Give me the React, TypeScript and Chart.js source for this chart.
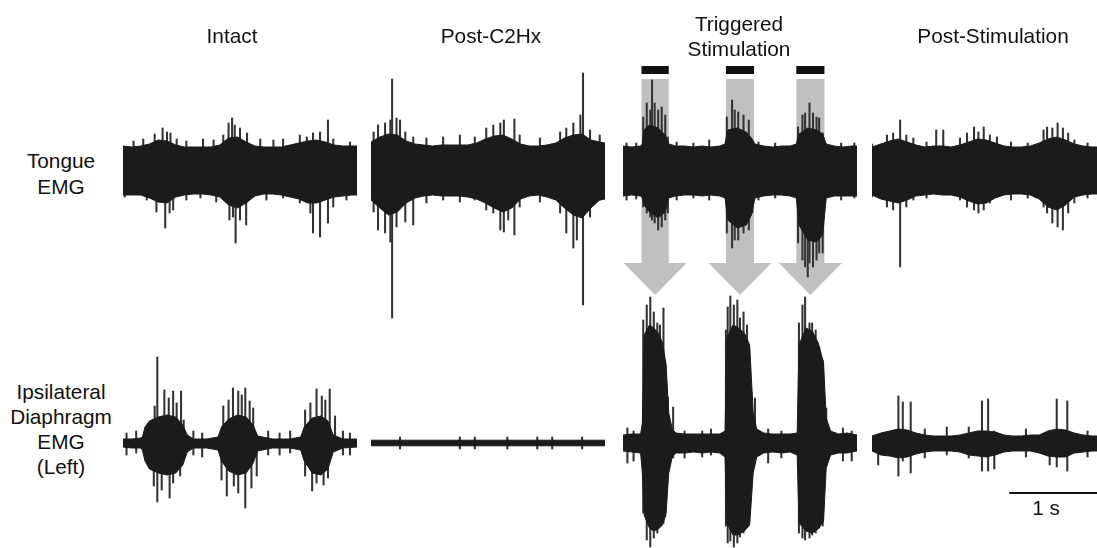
import React, { useEffect, useRef } from "react";
import { Chart, registerables } from "chart.js";

Chart.register(...registerables);

// ---------- DATA ----------
// Envelope samples (dense core of the trace): [time (s), upper amplitude, lower amplitude]  (a.u.)
// Spikes (individual excursions): [time (s), top, bottom]
type Env = [number, number, number][];
type Spk = [number, number, number][];

const PANEL_TITLES = ["Intact", "Post-C2Hx", "Triggered\nStimulation", "Post-Stimulation"];
const ROW_LABELS = ["Tongue\nEMG", "Ipsilateral\nDiaphragm\nEMG\n(Left)"];
const TRACE_DURATION = 2.66; // s
const SCALE_BAR_LABEL = "1 s";
const SCALE_BAR = [1.56, 2.56]; // s
const STIM_ON = [0.21, 1.17, 1.97]; // s
const STIM_OFF = [0.52, 1.49, 2.29]; // s

const TONGUE_INTACT: Env = [
  [0, 24, 25], [0.1, 23, 25], [0.2, 24, 25], [0.3, 26, 28], [0.4, 30, 32], [0.5, 29, 33], [0.6, 25, 27],
  [0.7, 23, 25], [0.8, 23, 24], [0.9, 23, 24], [1.0, 23, 25], [1.1, 25, 27], [1.2, 32, 35], [1.3, 33, 38],
  [1.4, 28, 33], [1.5, 24, 26], [1.6, 23, 24], [1.7, 23, 24], [1.8, 23, 25], [1.9, 25, 27], [2.0, 27, 29],
  [2.1, 29, 33], [2.2, 30, 33], [2.3, 28, 30], [2.4, 25, 27], [2.5, 24, 26], [2.6, 24, 25], [2.66, 24, 25],
];
const TONGUE_INTACT_SPIKES: Spk = [
  [0.02, 0, -27], [0.12, 29, 0], [0.23, 31, 0], [0.27, 0, -30], [0.36, 36, 0], [0.38, 0, -42], [0.45, 42, 0],
  [0.48, 0, -58], [0.5, 38, 0], [0.53, 0, -43], [0.54, 37, 0], [0.57, 0, -40], [0.61, 31, 0], [0.72, 29, -30],
  [0.88, 0, -28], [0.91, 31, 0], [1.03, 30, 0], [1.06, 0, -32], [1.14, 35, 0], [1.2, 47, 0], [1.21, 0, -50],
  [1.24, 52, 0], [1.25, 0, -47], [1.27, 45, 0], [1.28, 0, -73], [1.33, 42, -50], [1.4, 0, -55], [1.41, 37, 0],
  [1.56, 31, 0], [1.63, 0, -30], [1.71, 30, 0], [1.82, 31, -28], [2.01, 35, -33], [2.09, 33, 0], [2.13, 0, -43],
  [2.16, 37, -63], [2.24, 38, -67], [2.33, 50, -53], [2.39, 31, -37], [2.54, 0, -30], [2.58, 28, 0],
];

const TONGUE_C2HX: Env = [
  [0, 28, 30], [0.1, 33, 38], [0.2, 36, 45], [0.3, 35, 42], [0.4, 29, 33], [0.5, 26, 28], [0.6, 25, 26],
  [0.7, 24, 25], [0.8, 25, 26], [0.9, 25, 26], [1.0, 25, 26], [1.1, 25, 27], [1.2, 27, 29], [1.3, 31, 33],
  [1.4, 34, 38], [1.5, 35, 42], [1.6, 31, 38], [1.7, 26, 29], [1.8, 24, 26], [1.9, 24, 25], [2.0, 25, 27],
  [2.1, 27, 30], [2.2, 32, 38], [2.3, 35, 45], [2.4, 36, 48], [2.5, 30, 38], [2.6, 28, 30], [2.66, 27, 29],
];
const TONGUE_C2HX_SPIKES: Spk = [
  [0.03, 38, -42], [0.08, 45, -60], [0.16, 47, -63], [0.22, 50, -72], [0.24, 91, -148], [0.29, 52, -57],
  [0.33, 50, 0], [0.39, 38, -52], [0.48, 33, -55], [0.63, 32, -33], [0.82, 33, -30], [1.01, 35, -32],
  [1.18, 33, -30], [1.31, 42, -40], [1.39, 45, -43], [1.47, 47, -60], [1.51, 50, -62], [1.56, 0, -50],
  [1.63, 51, -65], [1.69, 35, -37], [1.92, 32, -32], [2.15, 38, -43], [2.22, 42, -63], [2.3, 47, -78],
  [2.34, 0, -70], [2.38, 55, 0], [2.41, 97, -135], [2.49, 40, -47], [2.6, 35, -30],
];

const TONGUE_TRIG: Env = [
  [0, 24, 26], [0.1, 23, 25], [0.2, 24, 26], [0.22, 26, 28], [0.24, 40, 35], [0.3, 45, 42], [0.4, 42, 48],
  [0.48, 35, 42], [0.52, 26, 28], [0.6, 24, 26], [0.7, 24, 25], [0.8, 23, 25], [0.9, 24, 26], [1.0, 23, 25],
  [1.1, 24, 26], [1.16, 26, 28], [1.19, 40, 50], [1.3, 42, 58], [1.4, 38, 55], [1.46, 32, 45], [1.5, 26, 28],
  [1.6, 24, 26], [1.7, 23, 25], [1.8, 24, 25], [1.9, 24, 26], [1.97, 26, 28], [2.0, 36, 55], [2.1, 42, 70],
  [2.2, 40, 72], [2.27, 36, 65], [2.31, 26, 28], [2.4, 24, 26], [2.5, 23, 26], [2.6, 24, 26], [2.66, 24, 26],
];
const TONGUE_TRIG_SPIKES: Spk = [
  [0.04, 27, -30], [0.15, 27, -29], [0.23, 53, -37], [0.27, 67, -43], [0.31, 60, -47], [0.33, 90, -50],
  [0.36, 67, -53], [0.4, 60, -60], [0.44, 63, -57], [0.48, 55, -50], [0.51, 33, -43], [0.61, 28, -30],
  [0.8, 27, -28], [0.98, 30, -30], [1.18, 53, -63], [1.24, 70, -78], [1.27, 60, -70], [1.31, 58, -70],
  [1.37, 55, -63], [1.43, 50, -60], [1.47, 30, -43], [1.54, 28, -30], [1.73, 27, -28], [1.99, 43, -73],
  [2.04, 55, -90], [2.07, 57, -97], [2.1, 0, -107], [2.12, 67, -93], [2.16, 57, -97], [2.2, 53, -90],
  [2.23, 52, -83], [2.27, 37, -83], [2.48, 27, -30], [2.63, 27, -28],
];

const TONGUE_POST: Env = [
  [0, 23, 25], [0.1, 26, 29], [0.2, 29, 31], [0.3, 31, 33], [0.4, 28, 30], [0.5, 25, 26], [0.6, 23, 25],
  [0.7, 24, 24], [0.8, 24, 25], [0.9, 23, 25], [1.0, 25, 27], [1.1, 28, 31], [1.2, 31, 34], [1.3, 30, 33],
  [1.4, 27, 28], [1.5, 24, 25], [1.6, 23, 24], [1.7, 23, 24], [1.8, 24, 25], [1.9, 27, 29], [2.0, 31, 37],
  [2.1, 33, 40], [2.2, 30, 35], [2.3, 26, 27], [2.4, 24, 25], [2.5, 23, 24], [2.6, 23, 24], [2.66, 23, 24],
];
const TONGUE_POST_SPIKES: Spk = [
  [0.0, 26, -27], [0.17, 35, -37], [0.24, 37, -40], [0.32, 50, -97], [0.39, 35, -37], [0.47, 32, -30],
  [0.62, 28, -28], [0.73, 40, 0], [0.81, 40, 0], [1.0, 32, -30], [1.08, 37, -37], [1.16, 43, -40],
  [1.21, 38, -43], [1.27, 43, -40], [1.34, 35, -33], [1.42, 33, 0], [1.58, 28, -30], [1.77, 27, -28],
  [1.95, 40, -37], [1.99, 43, -43], [2.05, 42, -53], [2.11, 47, -57], [2.17, 42, -60], [2.23, 37, -43],
  [2.3, 30, -33], [2.45, 27, -28],
];

const DIA_INTACT: Env = [
  [0, 4, 4], [0.1, 4, 5], [0.2, 5, 5], [0.22, 6, 7], [0.25, 16, 18], [0.3, 22, 26], [0.4, 26, 30],
  [0.5, 28, 32], [0.6, 26, 30], [0.68, 18, 22], [0.73, 8, 9], [0.8, 4, 5], [0.95, 4, 5], [1.08, 6, 7],
  [1.12, 16, 18], [1.2, 24, 28], [1.3, 28, 32], [1.4, 26, 30], [1.48, 18, 20], [1.53, 7, 8], [1.7, 4, 5],
  [1.9, 4, 5], [2.02, 6, 7], [2.06, 16, 18], [2.15, 25, 30], [2.25, 27, 32], [2.33, 22, 26], [2.39, 8, 9],
  [2.5, 4, 5], [2.66, 4, 4],
];
const DIA_INTACT_SPIKES: Spk = [
  [0.04, 10, -12], [0.15, 12, -10], [0.27, 0, -17], [0.35, 0, -43], [0.36, 37, 0], [0.39, 86, -59],
  [0.44, 0, -47], [0.47, 53, 0], [0.52, 45, 0], [0.53, 0, -55], [0.57, 52, -40], [0.61, 40, 0],
  [0.65, 0, -33], [0.66, 52, 0], [0.69, 23, 0], [0.8, 12, -12], [0.9, 10, -14], [1.12, 0, -37],
  [1.14, 37, 0], [1.18, 0, -53], [1.2, 43, 0], [1.25, 55, 0], [1.26, 0, -43], [1.31, 52, -50],
  [1.35, 48, 0], [1.39, 55, -65], [1.44, 42, 0], [1.46, 0, -45], [1.48, 35, 0], [1.52, 0, -33],
  [1.65, 12, -12], [1.78, 10, -12], [1.9, 12, -10], [2.07, 33, -33], [2.13, 40, 0], [2.15, 0, -48],
  [2.2, 54, -40], [2.26, 47, 0], [2.28, 0, -42], [2.3, 43, 0], [2.33, 0, -35], [2.35, 54, 0],
  [2.41, 27, 0], [2.5, 12, -12], [2.58, 10, -12],
];

const DIA_C2HX: Env = [
  [0, 2.8, 2.8], [0.7, 2.8, 2.8], [1.3, 2.8, 2.8], [2.0, 2.8, 2.8], [2.66, 2.8, 2.8],
];
const DIA_C2HX_SPIKES: Spk = [
  [0.33, 6, -6], [1.01, 6, -6], [1.18, 6, -6], [1.55, 6, -6], [1.89, 6, -6], [2.06, 6, -6], [2.4, 6, -6],
];

const DIA_TRIG: Env = [
  [0, 8, 8], [0.1, 9, 9], [0.2, 9, 10], [0.22, 20, 30], [0.24, 108, 72], [0.3, 118, 85], [0.35, 115, 88],
  [0.4, 110, 86], [0.45, 100, 82], [0.49, 78, 70], [0.52, 30, 30], [0.56, 14, 14], [0.6, 10, 10], [0.7, 9, 10],
  [0.8, 9, 9], [0.9, 9, 10], [1.0, 9, 9], [1.1, 9, 10], [1.16, 12, 14], [1.18, 105, 80], [1.25, 118, 92],
  [1.3, 116, 92], [1.38, 110, 88], [1.44, 98, 82], [1.48, 30, 30], [1.52, 14, 14], [1.6, 10, 10], [1.7, 9, 9],
  [1.8, 9, 10], [1.9, 9, 9], [1.98, 10, 12], [2.0, 98, 80], [2.08, 115, 88], [2.15, 112, 90], [2.22, 100, 86],
  [2.28, 80, 78], [2.31, 25, 25], [2.36, 12, 12], [2.45, 9, 10], [2.55, 10, 10], [2.66, 8, 8],
];
const DIA_TRIG_SPIKES: Spk = [
  [0.05, 15, -20], [0.12, 12, -18], [0.23, 123, -70], [0.27, 138, -97], [0.31, 146, -104], [0.35, 131, -95],
  [0.39, 120, -90], [0.42, 118, -77], [0.46, 135, -80], [0.48, 80, -74], [0.51, 46, -30], [0.57, 36, -15],
  [0.7, 12, -15], [0.9, 12, -14], [1.0, 14, -12], [1.17, 113, -83], [1.19, 136, -100], [1.22, 147, -98],
  [1.26, 138, -104], [1.3, 143, -100], [1.33, 125, -94], [1.37, 131, -90], [1.41, 118, -77], [1.46, 51, -40],
  [1.5, 45, -20], [1.65, 14, -20], [1.8, 12, -15], [2.0, 120, -90], [2.04, 138, -95], [2.07, 146, -97],
  [2.12, 120, -95], [2.15, 120, -92], [2.19, 113, -90], [2.23, 96, -85], [2.27, 83, -83], [2.31, 35, -15],
  [2.5, 15, -18], [2.6, 12, -18],
];

const DIA_POST: Env = [
  [0, 7, 8], [0.1, 10, 12], [0.2, 12, 13], [0.3, 14, 15], [0.4, 13, 14], [0.5, 10, 11], [0.6, 8, 9],
  [0.7, 7, 8], [0.8, 7, 8], [0.9, 7, 8], [1.0, 8, 9], [1.1, 10, 12], [1.2, 12, 13], [1.3, 12, 14],
  [1.4, 11, 12], [1.5, 8, 9], [1.6, 7, 8], [1.7, 7, 8], [1.8, 8, 8], [1.9, 8, 10], [2.0, 12, 13],
  [2.1, 14, 14], [2.2, 13, 14], [2.3, 10, 10], [2.4, 8, 9], [2.5, 7, 8], [2.6, 7, 8], [2.66, 7, 8],
];
const DIA_POST_SPIKES: Spk = [
  [0.07, 8, -22], [0.3, 47, -33], [0.35, 41, -18], [0.44, 41, -30], [0.6, 14, -15], [0.85, 16, -12],
  [1.1, 16, -15], [1.25, 42, -28], [1.32, 44, -28], [1.39, 12, -26], [1.75, 14, -14], [2.02, 12, -22],
  [2.1, 44, -24], [2.22, 42, -28], [2.45, 12, -14],
];

// ---------- STYLE / LAYOUT ----------
const W = 1097;
const H = 548;
const PANEL_LEFT = [123, 371, 623, 872];
const PANEL_WIDTH = 234;
const TRACE = "#1b1b1b";
const SPIKE = "#333333";
const ARROW = "#c0c0c0";
const INK = "#111111";
const FONT = '"Liberation Sans", Arial, Helvetica, sans-serif';
const FONT_SIZE = 20.8;

interface PanelSpec {
  tongue: Env;
  tongueSpikes: Spk;
  dia: Env;
  diaSpikes: Spk;
  stim?: boolean;
  scaleBar?: boolean;
}

const PANELS: PanelSpec[] = [
  { tongue: TONGUE_INTACT, tongueSpikes: TONGUE_INTACT_SPIKES, dia: DIA_INTACT, diaSpikes: DIA_INTACT_SPIKES },
  { tongue: TONGUE_C2HX, tongueSpikes: TONGUE_C2HX_SPIKES, dia: DIA_C2HX, diaSpikes: DIA_C2HX_SPIKES },
  { tongue: TONGUE_TRIG, tongueSpikes: TONGUE_TRIG_SPIKES, dia: DIA_TRIG, diaSpikes: DIA_TRIG_SPIKES, stim: true },
  { tongue: TONGUE_POST, tongueSpikes: TONGUE_POST_SPIKES, dia: DIA_POST, diaSpikes: DIA_POST_SPIKES, scaleBar: true },
];

const stimPlugin = {
  id: "stimArrows",
  beforeDatasetsDraw(chart: any) {
    const { ctx, scales } = chart;
    const x = scales.x;
    const yT = scales.yT;
    const shaftTop = yT.getPixelForValue(91);
    const headBase = yT.getPixelForValue(-93);
    const tip = yT.getPixelForValue(-125);
    const barTop = yT.getPixelForValue(104);
    const barBottom = yT.getPixelForValue(96);
    ctx.save();
    STIM_ON.forEach((on, i) => {
      const x0 = x.getPixelForValue(on);
      const x1 = x.getPixelForValue(STIM_OFF[i]);
      const xc = (x0 + x1) / 2;
      const half = 31.5;
      ctx.fillStyle = ARROW;
      ctx.beginPath();
      ctx.moveTo(x0, shaftTop);
      ctx.lineTo(x1, shaftTop);
      ctx.lineTo(x1, headBase);
      ctx.lineTo(xc + half, headBase);
      ctx.lineTo(xc, tip);
      ctx.lineTo(xc - half, headBase);
      ctx.lineTo(x0, headBase);
      ctx.closePath();
      ctx.fill();
      ctx.fillStyle = INK;
      ctx.fillRect(x0, barTop, x1 - x0, barBottom - barTop);
    });
    ctx.restore();
  },
};

const scaleBarPlugin = {
  id: "scaleBar",
  afterDatasetsDraw(chart: any) {
    const { ctx, scales } = chart;
    const x0 = scales.x.getPixelForValue(SCALE_BAR[0]);
    const x1 = scales.x.getPixelForValue(SCALE_BAR[1]);
    const y = scales.yD.getPixelForValue(-50);
    ctx.save();
    ctx.strokeStyle = INK;
    ctx.lineWidth = 2;
    ctx.beginPath();
    ctx.moveTo(x0, y);
    ctx.lineTo(x1, y);
    ctx.stroke();
    ctx.restore();
  },
};

function envDatasets(e: Env, axis: string) {
  return [
    {
      type: "line",
      data: e.map(([t, u]) => ({ x: t, y: u })),
      yAxisID: axis,
      borderColor: TRACE,
      borderWidth: 1,
      pointRadius: 0,
      tension: 0,
      fill: false,
    },
    {
      type: "line",
      data: e.map(([t, , l]) => ({ x: t, y: -l })),
      yAxisID: axis,
      borderColor: TRACE,
      backgroundColor: TRACE,
      borderWidth: 1,
      pointRadius: 0,
      tension: 0,
      fill: "-1",
    },
  ];
}

function spikeDataset(s: Spk, axis: string) {
  return {
    type: "bar",
    data: s.map(([t, hi, lo]) => ({ x: t, y: [lo, hi] })),
    yAxisID: axis,
    backgroundColor: SPIKE,
    borderWidth: 0,
    barThickness: 1.4,
    grouped: false,
  };
}

function Panel({ spec, left }: { spec: PanelSpec; left: number }) {
  const ref = useRef<HTMLCanvasElement | null>(null);
  useEffect(() => {
    if (!ref.current) return;
    const plugins: any[] = [];
    if (spec.stim) plugins.push(stimPlugin);
    if (spec.scaleBar) plugins.push(scaleBarPlugin);
    const chart = new Chart(ref.current, {
      type: "line",
      data: {
        datasets: [
          ...envDatasets(spec.tongue, "yT"),
          ...envDatasets(spec.dia, "yD"),
          spikeDataset(spec.tongueSpikes, "yT"),
          spikeDataset(spec.diaSpikes, "yD"),
        ] as any,
      },
      options: {
        animation: false,
        responsive: false,
        events: [],
        layout: { padding: 0 },
        plugins: { legend: { display: false }, tooltip: { enabled: false }, title: { display: false } },
        scales: {
          x: { type: "linear", min: 0, max: TRACE_DURATION, display: false, offset: false },
          yT: { type: "linear", min: -378, max: 170, display: false },
          yD: { type: "linear", min: -105, max: 443, display: false },
        },
      } as any,
      plugins,
    });
    return () => chart.destroy();
  }, [spec]);
  return (
    <canvas
      ref={ref}
      width={PANEL_WIDTH}
      height={H}
      style={{ position: "absolute", left, top: 0, width: PANEL_WIDTH, height: H }}
    />
  );
}

function Label({ text, x, y, gap }: { text: string; x: number; y: number; gap: number }) {
  const lines = text.split("\n");
  return (
    <>
      {lines.map((ln, i) => (
        <div
          key={i}
          style={{
            position: "absolute",
            left: x,
            top: y + i * gap,
            transform: "translate(-50%, -50%)",
            fontFamily: FONT,
            fontSize: FONT_SIZE,
            lineHeight: 1,
            color: INK,
            whiteSpace: "nowrap",
          }}
        >
          {ln}
        </div>
      ))}
    </>
  );
}

const TITLE_POS: [number, number][] = [
  [232, 36],
  [491, 35.5],
  [739, 24],
  [993, 35.5],
];

export default function App() {
  return (
    <div
      style={{
        position: "fixed",
        left: 0,
        top: 0,
        width: W,
        height: H,
        background: "#ffffff",
        overflow: "hidden",
      }}
    >
      {PANELS.map((p, i) => (
        <Panel key={i} spec={p} left={PANEL_LEFT[i]} />
      ))}
      {PANEL_TITLES.map((t, i) => (
        <Label key={t} text={t} x={TITLE_POS[i][0]} y={TITLE_POS[i][1]} gap={24.5} />
      ))}
      <Label text={ROW_LABELS[0]} x={61} y={161} gap={26} />
      <Label text={ROW_LABELS[1]} x={61} y={391.5} gap={25.2} />
      <Label text={SCALE_BAR_LABEL} x={1046} y={507.5} gap={25} />
    </div>
  );
}
